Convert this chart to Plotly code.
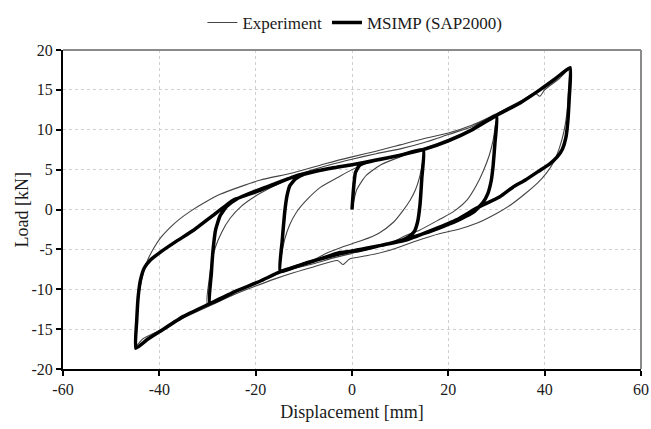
import plotly.graph_objects as go

# ---- tick definitions -------------------------------------------------------
X_TICKS = [-60, -40, -20, 0, 20, 40, 60]
X_TICK_TEXT = ["-60", "-40", "-20", "0", "20", "40", "60"]
Y_TICKS = [-20, -15, -10, -5, 0, 5, 10, 15, 20]
Y_TICK_TEXT = ["-20", "-15", "-10", "-5", "0", "5", "10", "15", "20"]

# ---- MSIMP (SAP2000) model response, branch by branch -----------------------
# initial loading up to +15 mm
model_a_x = [0, 0.3, 0.7, 1.5, 3, 6, 10, 14.8]
model_a_y = [0, 2.5, 4.6, 5.5, 5.9, 6.3, 6.8, 7.5]
# unloading from +15 mm down to -15 mm
model_b_x = [14.5, 14.1, 13.6, 12.9, 11.8, 10.2, 6, 1.7, -2.5, -6.6, -10, -14.9]
model_b_y = [4.0, 0.5, -1.6, -2.8, -3.4, -3.9, -4.5, -5.1, -5.4, -6.2, -6.8, -7.8]
# reloading from -15 mm up to +30 mm
model_c_x = [-14.5, -14.0, -13.5, -12.9, -11.8, -10, -5, 0, 5, 10, 14.8, 20, 25, 30]
model_c_y = [-4.0, -0.5, 1.7, 3.0, 3.8, 4.4, 5.1, 5.6, 6.2, 6.8, 7.5, 8.6, 10.0, 11.8]
# unloading from +30 mm down to -30 mm
model_d_x = [29.7, 29.3, 28.9, 28.2, 27.1, 25.3, 22.5, 19, 15, 10, 6, 0, -6.6, -14.9, -19.1, -24, -29.5]
model_d_y = [8.5, 5.5, 3.6, 2.0, 0.8, -0.3, -1.2, -2.1, -3.0, -3.9, -4.5, -5.2, -6.2, -7.8, -9.0, -10.2, -11.8]
# reloading from -30 mm up to +45 mm
model_e_x = [-29.2, -28.8, -28.3, -27.4, -26, -24, -21, -17, -13, -10, -5, 0, 5, 10, 14.8, 20, 25, 30, 35, 39, 42, 45.3]
model_e_y = [-8.0, -4.8, -2.5, -0.8, 0.4, 1.3, 2.1, 3.0, 3.9, 4.4, 5.1, 5.6, 6.2, 6.8, 7.5, 8.6, 10.0, 11.8, 13.4, 15.0, 16.3, 17.8]
# unloading from +45 mm down to -45 mm
model_f_x = [45.1, 44.8, 44.4, 43.7, 42.6, 41, 39, 36, 33.4, 30.7, 26, 21.7, 17, 11.4, 6, 1.7, -2.5, -6.6,
             -14.9, -19.1, -24, -29.5, -35, -39.9, -42.5, -44.9]
model_f_y = [14.0, 11.0, 9.0, 7.6, 6.6, 5.7, 4.9, 3.7, 2.8, 1.6, 0.2, -1.3, -2.5, -3.8, -4.5, -5.1, -5.4, -6.2,
             -7.8, -9.0, -10.2, -11.8, -13.4, -15.3, -16.3, -17.4]
# reloading from -45 mm
model_g_x = [-44.7, -44.4, -43.9, -43.1, -41.8, -39.9, -36.5, -32.9, -29, -24.6, -19.1, -12.2, -5, 0]
model_g_y = [-14.0, -11.0, -8.8, -7.3, -6.3, -5.4, -4.0, -2.6, -0.8, 1.2, 2.4, 4.1, 5.1, 5.6]

# ---- Experimental response ---------------------------------------------------
exp_a_x = [0, 1, 3, 6, 10, 15]
exp_a_y = [0, 2.5, 4.3, 5.6, 6.6, 7.6]
exp_b_x = [14.6, 14.0, 13.2, 12.1, 10.5, 8.6, 5.5, 2, -2, -5, -8, -12, -15]
exp_b_y = [5.8, 4.0, 2.5, 1.2, -0.2, -1.6, -3.0, -3.9, -4.7, -5.4, -6.3, -7.1, -7.6]
exp_c_x = [-14.6, -14.0, -13.0, -11.6, -9.4, -6.5, -3, 0, 3, 5, 10, 15, 20, 25, 30]
exp_c_y = [-5.6, -3.8, -2.0, -0.4, 1.2, 2.8, 4.0, 5.0, 5.8, 6.2, 6.9, 7.7, 8.8, 10.2, 12.0]
exp_d_x = [29.7, 29.3, 28.5, 27.3, 25.8, 23.9, 21, 18.3, 14, 11.4, 8, 4, 0, -4, -8, -12, -16, -20, -25, -30]
exp_d_y = [10.3, 8.7, 6.8, 4.9, 3.0, 1.2, -0.3, -1.2, -2.6, -3.2, -4.2, -4.9, -5.5, -6.1, -6.8, -7.4, -8.2, -9.2, -10.5, -11.8]
exp_e_x = [-29.7, -29.2, -28.4, -27.1, -25.3, -23, -20, -16, -12, -8, -4, 0, 5, 10, 15, 20, 25, 30, 35, 38, 39, 40, 43, 45]
exp_e_y = [-9.0, -6.8, -4.8, -2.9, -1.1, 0.4, 1.7, 3.0, 4.2, 5.0, 5.7, 6.3, 7.0, 7.6, 8.4, 9.4, 10.4, 12.0, 13.6, 14.6, 14.2, 15.0, 16.4, 17.5]
exp_f_x = [44.9, 44.6, 44.0, 43.1, 41.9, 40.4, 38.5, 36, 33, 30, 26, 22, 18.3, 13, 7.9, 3, -0.5, -1.9, -3, -8, -12,
           -16, -20, -25, -30, -35, -40, -43.4, -45]
exp_f_y = [14.5, 12.0, 9.8, 7.8, 6.0, 4.6, 3.3, 2.0, 0.6, -0.5, -1.7, -2.5, -3.0, -4.0, -5.1, -5.8, -6.2, -6.9, -6.4, -7.2, -7.9,
           -8.7, -9.6, -10.8, -12.2, -13.6, -15.2, -16.2, -17.2]
exp_g_x = [-44.8, -44.5, -44.0, -43.3, -42.4, -41.2, -39.8, -38.0, -36, -33.5, -30.5, -27.4, -23, -19, -12.2, -5.2,
           0, 5, 10, 15, 20, 25, 30]
exp_g_y = [-14.5, -12.0, -9.8, -7.9, -6.3, -4.9, -3.6, -2.4, -1.3, -0.2, 0.9, 1.9, 2.9, 3.7, 4.6, 5.8,
           6.6, 7.3, 8.1, 8.9, 9.6, 10.6, 12.0]

model_x = model_a_x + model_b_x + model_c_x + model_d_x + model_e_x + model_f_x + model_g_x
model_y = model_a_y + model_b_y + model_c_y + model_d_y + model_e_y + model_f_y + model_g_y
exp_x = exp_a_x + exp_b_x + exp_c_x + exp_d_x + exp_e_x + exp_f_x + exp_g_x
exp_y = exp_a_y + exp_b_y + exp_c_y + exp_d_y + exp_e_y + exp_f_y + exp_g_y

SERIF = "Liberation Serif, Times New Roman, serif"

fig = go.Figure()
fig.add_trace(go.Scatter(
    x=exp_x, y=exp_y, mode="lines", name="Experiment",
    line=dict(color="#444444", width=1.1, shape="spline", smoothing=0.6),
))
fig.add_trace(go.Scatter(
    x=model_x, y=model_y, mode="lines", name="MSIMP (SAP2000)",
    line=dict(color="#000000", width=3.5, shape="spline", smoothing=0.4),
))

axis_common = dict(
    showgrid=True, gridcolor="#cfcfcf", griddash="dot", gridwidth=1,
    zeroline=False, showline=True, linecolor="#000000", linewidth=2,
    ticks="outside", ticklen=5, tickwidth=1.5, tickcolor="#000000",
    tickfont=dict(family=SERIF, size=16, color="#1a1a1a"),
)

fig.update_layout(
    width=651, height=429,
    margin=dict(l=63, r=10, t=50, b=60, autoexpand=False),
    paper_bgcolor="white", plot_bgcolor="white",
    font=dict(family=SERIF, color="#1a1a1a"),
    showlegend=True,
    legend=dict(
        orientation="h", x=0.505, xanchor="center", y=1.085, yanchor="middle",
        font=dict(family=SERIF, size=17, color="#1a1a1a"),
        itemwidth=30, tracegroupgap=0, bgcolor="rgba(0,0,0,0)",
    ),
    xaxis=dict(
        range=[-60, 60], tickvals=X_TICKS, ticktext=X_TICK_TEXT,
        title=dict(text="Displacement [mm]", font=dict(family=SERIF, size=18), standoff=8),
        **axis_common,
    ),
    yaxis=dict(
        range=[-20, 20], tickvals=Y_TICKS, ticktext=Y_TICK_TEXT,
        **axis_common,
    ),
    annotations=[
        dict(text="Load [kN]", xref="paper", yref="paper", x=-0.071, y=0.5,
             xanchor="center", yanchor="middle", textangle=-90, showarrow=False,
             font=dict(family=SERIF, size=18, color="#1a1a1a")),
    ],
    shapes=[
        dict(type="line", xref="paper", yref="paper", x0=0, x1=1, y0=1, y1=1,
             line=dict(color="#8a8a8a", width=2)),
        dict(type="line", xref="paper", yref="paper", x0=1, x1=1, y0=0, y1=1,
             line=dict(color="#8a8a8a", width=2)),
    ],
)

fig.write_html("out.html")
